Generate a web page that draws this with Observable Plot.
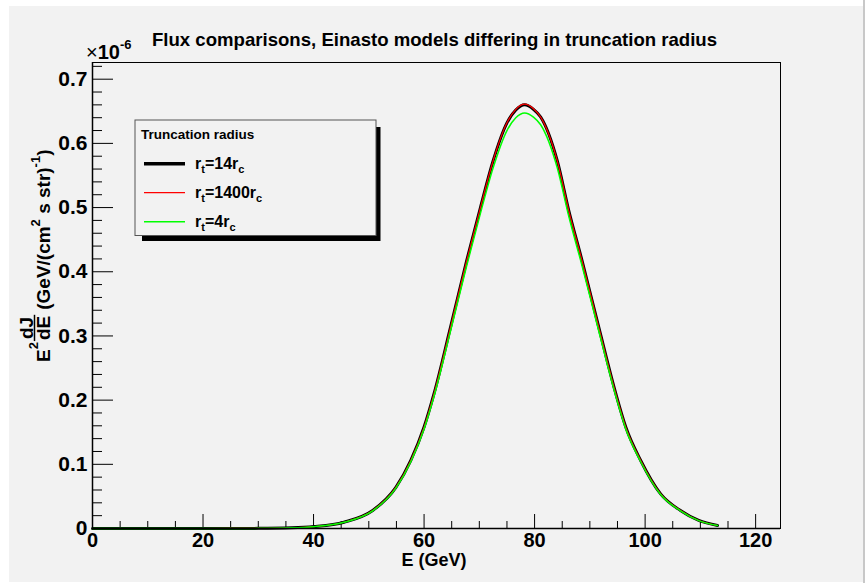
<!DOCTYPE html>
<html><head><meta charset="utf-8">
<script src="https://cdn.jsdelivr.net/npm/d3@7"></script>
<script src="https://cdn.jsdelivr.net/npm/@observablehq/plot@0.6"></script>
<style>
body{margin:0;background:#fff;}
#bg{position:absolute;left:9px;top:6px;width:854px;height:576px;background:#f2f2f2;}
#edge{position:absolute;left:863px;top:0;width:2px;height:583px;background:#c8c8c8;}
#chart{position:absolute;left:0;top:0;}
</style></head><body><div id="bg"></div><div id="edge"></div><div id="chart"></div>
<script>
const energy   = [0, 10, 20, 30, 36, 40.1, 45.5, 50.7, 54.9, 57.6, 60.0, 61.8, 64.8, 67.7, 70.2, 72.5, 75.0, 76.6, 78.2, 79.8, 81.1, 84.1, 86.2, 88.6, 91.6, 94.7, 96.5, 99.2, 102.8, 106.4, 109.7, 113.1];
const flux14   = [0, 0, 0, 0.0002, 0.001, 0.003, 0.0098, 0.028, 0.064, 0.106, 0.158, 0.210, 0.314, 0.417, 0.500, 0.573, 0.632, 0.652, 0.660, 0.653, 0.641, 0.573, 0.495, 0.417, 0.314, 0.210, 0.158, 0.106, 0.054, 0.028, 0.0125, 0.0047];
const flux1400 = [0, 0, 0, 0.0002, 0.001, 0.003, 0.0098, 0.028, 0.064, 0.106, 0.158, 0.210, 0.314, 0.417, 0.500, 0.573, 0.632, 0.653, 0.661, 0.654, 0.641, 0.573, 0.495, 0.417, 0.314, 0.210, 0.158, 0.106, 0.054, 0.028, 0.0125, 0.0047];
const flux4    = [0, 0, 0, 0.0002, 0.001, 0.0029, 0.0096, 0.0275, 0.0628, 0.104, 0.155, 0.206, 0.308, 0.409, 0.491, 0.562, 0.620, 0.640, 0.6475, 0.641, 0.629, 0.562, 0.486, 0.409, 0.308, 0.206, 0.155, 0.104, 0.053, 0.0275, 0.0123, 0.0046];
const seriesNames = ["r_t=14r_c", "r_t=1400r_c", "r_t=4r_c"];
const xTicks = [0, 20, 40, 60, 80, 100, 120];
const xMinor = [5, 10, 15, 25, 30, 35, 45, 50, 55, 65, 70, 75, 85, 90, 95, 105, 110, 115];
const yTicks = [0, 0.1, 0.2, 0.3, 0.4, 0.5, 0.6, 0.7];
const yMinor = [0.02,0.04,0.06,0.08,0.12,0.14,0.16,0.18,0.22,0.24,0.26,0.28,0.32,0.34,0.36,0.38,0.42,0.44,0.46,0.48,0.52,0.54,0.56,0.58,0.62,0.64,0.66,0.68,0.72];

const W = 865, H = 583, mL = 92, mR = 85, mT = 62, mB = 55;
const fw = W - mL - mR, fh = H - mT - mB;
const font = "'Liberation Sans', Arial, Helvetica, sans-serif";

const table = energy.map((e, i) => ({e, a: flux14[i], b: flux1400[i], c: flux4[i]}));

const plot = Plot.plot({
  width: W, height: H,
  marginLeft: mL, marginRight: mR, marginTop: mT, marginBottom: mB,
  style: {background: "transparent", fontFamily: font, color: "#000"},
  x: {domain: [0, 124.5]},
  y: {domain: [0, 0.726]},
  marks: [
    Plot.ruleX(xMinor, {stroke: "#000", insetTop: fh - 7}),
    Plot.ruleX(xTicks, {stroke: "#000", insetTop: fh - 14}),
    Plot.ruleY(yMinor, {stroke: "#000", insetRight: fw - 10}),
    Plot.ruleY(yTicks, {stroke: "#000", insetRight: fw - 21}),
    Plot.axisX({ticks: xTicks, tickSize: 0, tickPadding: 4, fontSize: 20, fontWeight: "bold", label: null, tickFormat: d => String(d)}),
    Plot.axisY({ticks: yTicks, tickSize: 0, tickPadding: 5, fontSize: 21, fontWeight: "bold", label: null, tickFormat: d => d === 0 ? "0" : d.toFixed(1)}),
    Plot.line(table, {x: "e", y: "a", stroke: "#000", strokeWidth: 3, curve: "monotone-x"}),
    Plot.line(table, {x: "e", y: "b", stroke: "#ff0000", strokeWidth: 1.2, curve: "monotone-x"}),
    Plot.line(table, {x: "e", y: "c", stroke: "#00ff00", strokeWidth: 1.5, curve: "monotone-x"}),
    Plot.frame({stroke: "#000", strokeWidth: 1}),
    Plot.ruleX([0], {stroke: "#000", strokeWidth: 1.5}),
    Plot.ruleY([0], {stroke: "#000", strokeWidth: 1.5})
  ]
});
document.getElementById("chart").appendChild(plot);
const svg = d3.select(plot);

// Title
svg.append("text").attr("x", 434.5).attr("y", 46).attr("text-anchor", "middle")
  .attr("font-family", font).attr("font-weight", "bold").attr("font-size", 18.6)
  .text("Flux comparisons, Einasto models differing in truncation radius");

// x10^-6
const ex = svg.append("text").attr("x", 86).attr("y", 59).attr("text-anchor", "start").attr("font-family", font).attr("font-size", 20);
ex.append("tspan").text("\u00d7");
ex.append("tspan").attr("font-weight", "bold").text("10");
ex.append("tspan").attr("font-weight", "bold").attr("font-size", 13).attr("dy", -10).text("-6");

// x title
svg.append("text").attr("x", 434).attr("y", 566).attr("text-anchor", "middle")
  .attr("font-family", font).attr("font-weight", "bold").attr("font-size", 18).text("E (GeV)");

// y title (rotated)
const g = svg.append("g").attr("transform", "translate(50,362) rotate(-90)").attr("text-anchor", "start")
  .attr("font-family", font).attr("font-weight", "bold").attr("font-size", 19);
let cx = 0;
const tE = g.append("text").attr("x", cx).attr("y", 0).text("E");
cx += tE.node().getComputedTextLength();
const tS = g.append("text").attr("x", cx).attr("y", -12).attr("font-size", 13).text("2");
cx += tS.node().getComputedTextLength() + 1;
const num = g.append("text").attr("y", -17.5).text("dJ");
const den = g.append("text").attr("y", 0).text("dE");
const wn = num.node().getComputedTextLength(), wd = den.node().getComputedTextLength();
const fwid = Math.max(wn, wd) + 2;
num.attr("x", cx + (fwid - wn) / 2);
den.attr("x", cx + (fwid - wd) / 2);
g.append("line").attr("x1", cx).attr("x2", cx + fwid).attr("y1", -15.5).attr("y2", -15.5).attr("stroke", "#000").attr("stroke-width", 1.5);
cx += fwid + 5;
const rest = g.append("text").attr("x", cx).attr("y", 0);
rest.append("tspan").text("(GeV/(cm");
rest.append("tspan").attr("font-size", 13).attr("dy", -10).text("2");
rest.append("tspan").attr("dy", 10).text(" s str)");
rest.append("tspan").attr("font-size", 13).attr("dy", -10).text("-1");
rest.append("tspan").attr("dy", 10).text(")");

// Legend
const lg = svg.append("g").attr("font-family", font).attr("font-weight", "bold").attr("text-anchor", "start");
lg.append("rect").attr("x", 142).attr("y", 127).attr("width", 238.5).attr("height", 114).attr("fill", "#000");
lg.append("rect").attr("x", 135).attr("y", 120).attr("width", 241).attr("height", 115.5).attr("fill", "#f2f2f2").attr("stroke", "#555").attr("stroke-width", 1);
lg.append("text").attr("x", 141).attr("y", 139).attr("font-size", 13.5).text("Truncation radius");
const styles = [{c: "#000", w: 3.5}, {c: "#ff0000", w: 1.2}, {c: "#00ff00", w: 1.5}];
const rowsY = [163.7, 192.7, 221.7];
seriesNames.forEach((name, i) => {
  const y = rowsY[i];
  lg.append("line").attr("x1", 144).attr("x2", 185).attr("y1", y).attr("y2", y).attr("stroke", styles[i].c).attr("stroke-width", styles[i].w);
  const m = name.match(/^r_t=(.*)r_c$/);
  const t = lg.append("text").attr("x", 195).attr("y", y + 5).attr("font-size", 16);
  t.append("tspan").text("r");
  t.append("tspan").attr("font-size", 11).attr("dy", 4).text("t");
  t.append("tspan").attr("dy", -4).text("=" + m[1] + "r");
  t.append("tspan").attr("font-size", 11).attr("dy", 4).text("c");
});
</script></body></html>
